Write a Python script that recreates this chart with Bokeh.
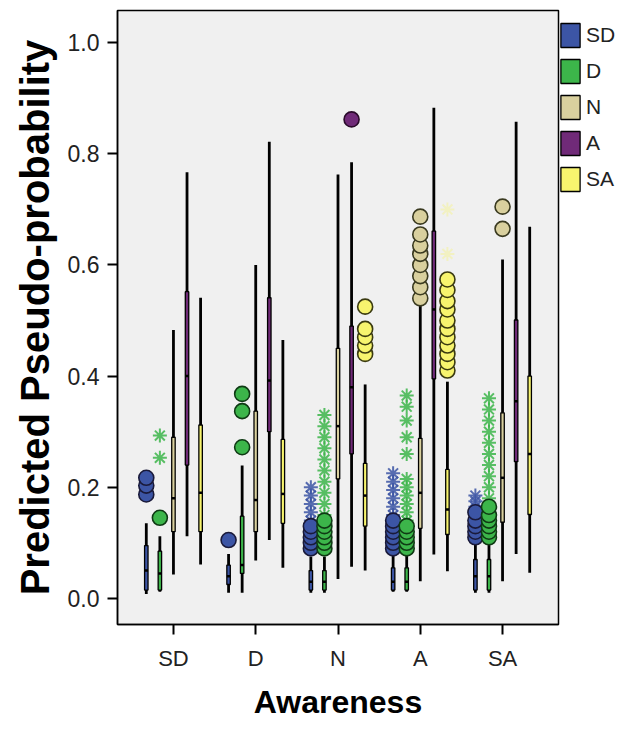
from bokeh.plotting import figure
from bokeh.models import (Range1d, FixedTicker, Legend, LegendItem,
                          ColumnDataSource, NumeralTickFormatter)
from bokeh.embed import file_html
from bokeh.resources import INLINE

categories = ["SD", "D", "N", "A", "SA"]
groups = ["SD", "D", "N", "A", "SA"]
y_ticks = [0.0, 0.2, 0.4, 0.6, 0.8, 1.0]
group_colors = ["#3c55a5", "#3cb54a", "#d9d09e", "#702a78", "#f7f46e"]
circle_edge = ["#1a1a3a", "#0f3a14", "#3a3a20", "#2a0a2a", "#3a3a10"]

# rows: Awareness category; columns: predicted group SD, D, N, A, SA
whisker_low = [
    [0.008, 0.012, 0.043, 0.112, 0.061],
    [0.010, 0.010, 0.068, 0.105, 0.055],
    [0.010, 0.010, 0.035, 0.057, 0.050],
    [0.012, 0.012, 0.031, 0.079, 0.049],
    [0.010, 0.010, 0.031, 0.080, 0.046],
]
q1 = [
    [0.015, 0.015, 0.120, 0.240, 0.120],
    [0.025, 0.045, 0.120, 0.300, 0.135],
    [0.015, 0.015, 0.215, 0.260, 0.130],
    [0.015, 0.015, 0.126, 0.395, 0.115],
    [0.015, 0.015, 0.137, 0.246, 0.151],
]
median = [
    [0.050, 0.045, 0.180, 0.400, 0.190],
    [0.040, 0.060, 0.177, 0.392, 0.188],
    [0.030, 0.030, 0.310, 0.380, 0.185],
    [0.030, 0.030, 0.190, 0.520, 0.160],
    [0.040, 0.040, 0.217, 0.355, 0.260],
]
q3 = [
    [0.095, 0.085, 0.290, 0.552, 0.312],
    [0.060, 0.148, 0.337, 0.541, 0.286],
    [0.050, 0.050, 0.450, 0.490, 0.243],
    [0.055, 0.055, 0.288, 0.661, 0.232],
    [0.070, 0.070, 0.334, 0.501, 0.400],
]
whisker_high = [
    [0.135, 0.112, 0.483, 0.767, 0.541],
    [0.080, 0.239, 0.600, 0.822, 0.465],
    [0.075, 0.075, 0.763, 0.785, 0.385],
    [0.085, 0.085, 0.530, 0.883, 0.390],
    [0.100, 0.100, 0.610, 0.858, 0.669],
]

# outliers (circles) and extremes (asterisks), keyed by (category, group)
circle_outliers = {
    ("SD", "SD"): [0.187, 0.203, 0.217],
    ("SD", "D"): [0.145],
    ("D", "SD"): [0.105],
    ("D", "D"): [0.272, 0.337, 0.368],
    ("N", "SD"): [0.09, 0.10, 0.11, 0.12, 0.13],
    ("N", "D"): [0.09, 0.10, 0.11, 0.12, 0.13, 0.14],
    ("N", "A"): [0.862],
    ("N", "SA"): [0.44, 0.455, 0.47, 0.485, 0.525],
    ("A", "SD"): [0.09, 0.10, 0.11, 0.12, 0.13, 0.14],
    ("A", "D"): [0.09, 0.10, 0.11, 0.12, 0.13],
    ("A", "N"): [0.54, 0.56, 0.58, 0.60, 0.62, 0.635, 0.655, 0.687],
    ("A", "SA"): [0.41, 0.425, 0.44, 0.455, 0.47, 0.485, 0.50, 0.52,
                  0.535, 0.555, 0.574],
    ("SA", "SD"): [0.11, 0.12, 0.13, 0.14, 0.155],
    ("SA", "D"): [0.11, 0.12, 0.13, 0.14, 0.15, 0.165],
    ("SA", "N"): [0.665, 0.705],
}
star_outliers = {
    ("SD", "D"): [0.253, 0.293],
    ("N", "SD"): [0.14, 0.155, 0.17, 0.185, 0.20],
    ("N", "D"): [0.15, 0.17, 0.19, 0.21, 0.23, 0.25, 0.27, 0.29, 0.31, 0.33],
    ("A", "SD"): [0.15, 0.165, 0.18, 0.195, 0.21, 0.225],
    ("A", "D"): [0.14, 0.155, 0.17, 0.185, 0.20, 0.215, 0.26, 0.29, 0.32,
                 0.345, 0.365],
    ("A", "SA"): [0.62, 0.70],
    ("SA", "SD"): [0.165, 0.175, 0.185],
    ("SA", "D"): [0.18, 0.20, 0.22, 0.24, 0.26, 0.28, 0.30, 0.32, 0.34, 0.36],
}
faint_star_groups = ["SA"]

offsets = [-0.33, -0.165, 0.0, 0.165, 0.33]
box_w = 0.042

p = figure(frame_width=441, frame_height=614,
           x_range=Range1d(-0.68, 4.68), y_range=Range1d(-0.047, 1.058),
           output_backend="svg", toolbar_location=None,
           min_border_left=117, min_border_right=65,
           min_border_top=10, min_border_bottom=116,
           background_fill_color="#f0f0f0", border_fill_color="white",
           outline_line_color="black", outline_line_width=1.5)
p.xgrid.visible = False
p.ygrid.visible = False

legend_items = []
for g, gname in enumerate(groups):
    xs, lo, a, m, b, hi = [], [], [], [], [], []
    for c, cname in enumerate(categories):
        xs.append(c + offsets[g])
        lo.append(whisker_low[c][g])
        a.append(q1[c][g])
        m.append(median[c][g])
        b.append(q3[c][g])
        hi.append(whisker_high[c][g])
    src = ColumnDataSource(dict(x=xs, lo=lo, q1=a, med=m, q3=b, hi=hi,
                                xl=[v - box_w / 2 for v in xs],
                                xr=[v + box_w / 2 for v in xs]))
    p.segment(x0="x", y0="lo", x1="x", y1="hi", source=src,
              line_color="black", line_width=2.8)
    box = p.vbar(x="x", width=box_w, bottom="q1", top="q3", source=src,
                 fill_color=group_colors[g], line_color="black",
                 line_width=1.3)
    p.segment(x0="xl", y0="med", x1="xr", y1="med", source=src,
              line_color="black", line_width=2.5)
    legend_items.append(LegendItem(label=gname, renderers=[box]))

for g, gname in enumerate(groups):
    sx, sy = [], []
    cx, cy = [], []
    for c, cname in enumerate(categories):
        for v in star_outliers.get((cname, gname), []):
            sx.append(c + offsets[g])
            sy.append(v)
        for v in circle_outliers.get((cname, gname), []):
            cx.append(c + offsets[g])
            cy.append(v)
    if sx:
        alpha = 0.35 if gname in faint_star_groups else 0.85
        p.scatter(sx, sy, marker="asterisk", size=14,
                  line_color=group_colors[g], line_width=2, line_alpha=alpha)
    if cx:
        p.scatter(cx, cy, marker="circle", size=15,
                  fill_color=group_colors[g], line_color=circle_edge[g],
                  line_width=1.6)

font = "Liberation Sans"
p.xaxis.ticker = FixedTicker(ticks=list(range(len(categories))))
p.xaxis.major_label_overrides = {i: n for i, n in enumerate(categories)}
p.yaxis.ticker = FixedTicker(ticks=y_ticks)
p.yaxis.formatter = NumeralTickFormatter(format="0.0")
for ax in (p.xaxis[0], p.yaxis[0]):
    ax.major_tick_in = 0
    ax.major_tick_out = 10
    ax.major_tick_line_width = 2
    ax.minor_tick_line_color = None
    ax.axis_line_width = 1.5
    ax.major_label_text_font = font
    ax.major_label_text_color = "#222222"
    ax.axis_label_text_font = font
    ax.axis_label_text_font_style = "bold"
    ax.axis_label_text_color = "black"

p.xaxis.axis_label = "Awareness"
p.xaxis.axis_label_text_font_size = "32px"
p.xaxis.major_label_text_font_size = "22px"
p.xaxis.major_label_standoff = 11
p.xaxis.axis_label_standoff = 10

p.yaxis.axis_label = "Predicted Pseudo-probability"
p.yaxis.axis_label_text_font_size = "40px"
p.yaxis.major_label_text_font_size = "23px"
p.yaxis.major_label_standoff = 8
p.yaxis.axis_label_standoff = 8

legend = Legend(items=legend_items, location=(0, 430),
                margin=0, padding=0, spacing=6,
                glyph_width=24, glyph_height=30, label_standoff=4,
                label_text_font=font, label_text_font_size="21px",
                label_text_color="#222222",
                border_line_color=None, background_fill_alpha=0)
p.add_layout(legend, "right")

open("out.html", "w").write(file_html(p, INLINE))
